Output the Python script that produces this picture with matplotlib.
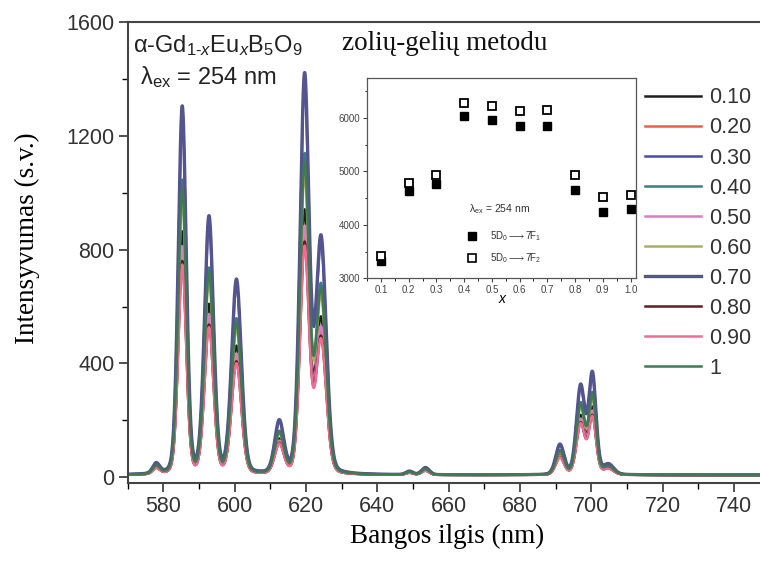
import numpy as np
import matplotlib.pyplot as plt

# Eu3+ emission lines (nm, half width nm, height of the strongest curve)
peak_nm = [578.0, 585.3, 592.8, 600.5, 612.5, 619.6, 624.2, 649.0, 653.5, 691.2, 697.0, 700.3, 704.8]
peak_hw = [1.0, 1.15, 1.3, 1.4, 1.3, 1.3, 1.5, 1.0, 1.1, 1.2, 1.2, 1.05, 1.5]
peak_h = [35, 1290, 900, 680, 180, 1390, 820, 12, 25, 105, 310, 350, 35]
base_level = 8

# concentrations and relative intensities of each curve
conc_labels = ["0.10", "0.20", "0.30", "0.40", "0.50", "0.60", "0.70", "0.80", "0.90", "1"]
rel_int = [0.66, 0.60, 0.97, 0.80, 0.62, 0.75, 1.00, 0.58, 0.57, 0.78]
colors = ["#1e1e1e", "#e8604c", "#4a4aa8", "#3c7c84", "#d580c4", "#a8ae66",
          "#54548e", "#5a2024", "#f06c92", "#3f7a52"]

# inset: integrated intensity vs x
x_conc = [0.1, 0.2, 0.3, 0.4, 0.5, 0.6, 0.7, 0.8, 0.9, 1.0]
i_7f1 = [3330, 4640, 4770, 6040, 5960, 5850, 5850, 4660, 4245, 4295]
i_7f2 = [3420, 4780, 4925, 6280, 6230, 6130, 6150, 4925, 4515, 4560]

plt.rcParams["mathtext.fontset"] = "custom"
plt.rcParams["mathtext.rm"] = "Liberation Sans"
plt.rcParams["mathtext.it"] = "Liberation Sans:italic"
plt.rcParams["font.family"] = "Liberation Sans"

wl = np.linspace(570, 750, 3000)


def spectrum(scale):
    y = np.full_like(wl, base_level)
    for c, w, h in zip(peak_nm, peak_hw, peak_h):
        g = np.exp(-0.5 * ((wl - c) / w) ** 2)
        lo = 1.0 / (1.0 + ((wl - c) / w) ** 2)
        y += scale * h * (0.8 * g + 0.2 * lo)
    return y


fig = plt.figure(figsize=(7.6, 5.62), dpi=100)
ax = fig.add_axes([0.168, 0.1406, 0.84, 0.8203])

for lab, s, col in zip(conc_labels, rel_int, colors):
    lw = 2.4 if lab == "0.70" else 1.8
    ax.plot(wl, spectrum(s), color=col, lw=lw, label=lab)

ax.set_xlim(571, 749)
ax.set_ylim(-20, 1600)
ax.set_xticks(np.arange(580, 750, 20))
ax.set_xticks(np.arange(570, 750, 10), minor=True)
ax.set_yticks([0, 400, 800, 1200, 1600])
ax.set_yticks(np.arange(0, 1601, 200), minor=True)
ax.tick_params(direction="out", length=6.5, width=1.2, labelsize=15.5, colors="#333333", pad=3)
ax.tick_params(which="minor", direction="out", length=4, width=1.0)
for side in ["left", "bottom", "top"]:
    ax.spines[side].set_linewidth(1.5)
    ax.spines[side].set_color("#444444")
ax.spines["right"].set_visible(False)

ax.set_xlabel("Bangos ilgis (nm)", family="Liberation Serif", fontsize=19.5, labelpad=5)
ax.set_ylabel("Intensyvumas (s.v.)", family="Liberation Serif", fontsize=19.5)
ax.yaxis.set_label_coords(-0.138, 0.53)

ax.text(0.008, 0.935, r"α-Gd$_{\mathrm{1}\text{-}x}$Eu$_x$B$_5$O$_9$", transform=ax.transAxes,
        fontsize=17, color="#222222", va="baseline")
ax.text(0.335, 0.94, "zolių-gelių metodu", transform=ax.transAxes,
        family="Liberation Serif", fontsize=19.5, color="#111111", va="baseline")
ax.text(0.02, 0.865, r"λ$_{\mathrm{ex}}$ = 254 nm", transform=ax.transAxes,
        fontsize=17, color="#222222", va="baseline")

leg = ax.legend(loc="upper left", bbox_to_anchor=(0.78, 0.90), frameon=False,
                fontsize=15.5, handlelength=2.6, handletextpad=0.4, labelspacing=0.42,
                labelcolor="#333333")

# inset
ins = fig.add_axes([0.483, 0.505, 0.354, 0.356])
ins.plot(x_conc, i_7f1, "s", ms=6, color="black", mec="black")
ins.plot(x_conc, i_7f2, "s", ms=6, mfc="white", mec="black", mew=1.3)
ins.set_xlim(0.05, 1.02)
ins.set_ylim(3000, 6750)
ins.set_xticks(x_conc)
ins.set_xticklabels(["0.1", "0.2", "0.3", "0.4", "0.5", "0.6", "0.7", "0.8", "0.9", "1.0"])
ins.set_xticks(np.arange(0.05, 1.02, 0.05), minor=True)
ins.set_yticks([3000, 4000, 5000, 6000])
ins.set_yticks(np.arange(3000, 6750, 500), minor=True)
ins.tick_params(direction="out", length=3, width=0.8, labelsize=7, colors="#444444", pad=2)
ins.tick_params(which="minor", direction="out", length=1.8, width=0.6)
for sp in ins.spines.values():
    sp.set_linewidth(0.9)
    sp.set_color("#555555")
ins.set_xlabel("x", style="italic", fontsize=10, labelpad=-2)

ins.text(0.38, 0.33, r"λ$_{\mathrm{ex}}$ = 254 nm", transform=ins.transAxes, fontsize=7.5, color="#333333")
ins.plot([0.43], [3790], "s", ms=5.5, color="black")
ins.plot([0.43], [3370], "s", ms=5.5, mfc="white", mec="black", mew=1.2)
ins.text(0.457, 0.21, r"5D$_0$$\longrightarrow$7F$_1$", transform=ins.transAxes, fontsize=7,
         color="#333333", va="center")
ins.text(0.457, 0.098, r"5D$_0$$\longrightarrow$7F$_2$", transform=ins.transAxes, fontsize=7,
         color="#333333", va="center")

fig.savefig("out.png", dpi=100)
